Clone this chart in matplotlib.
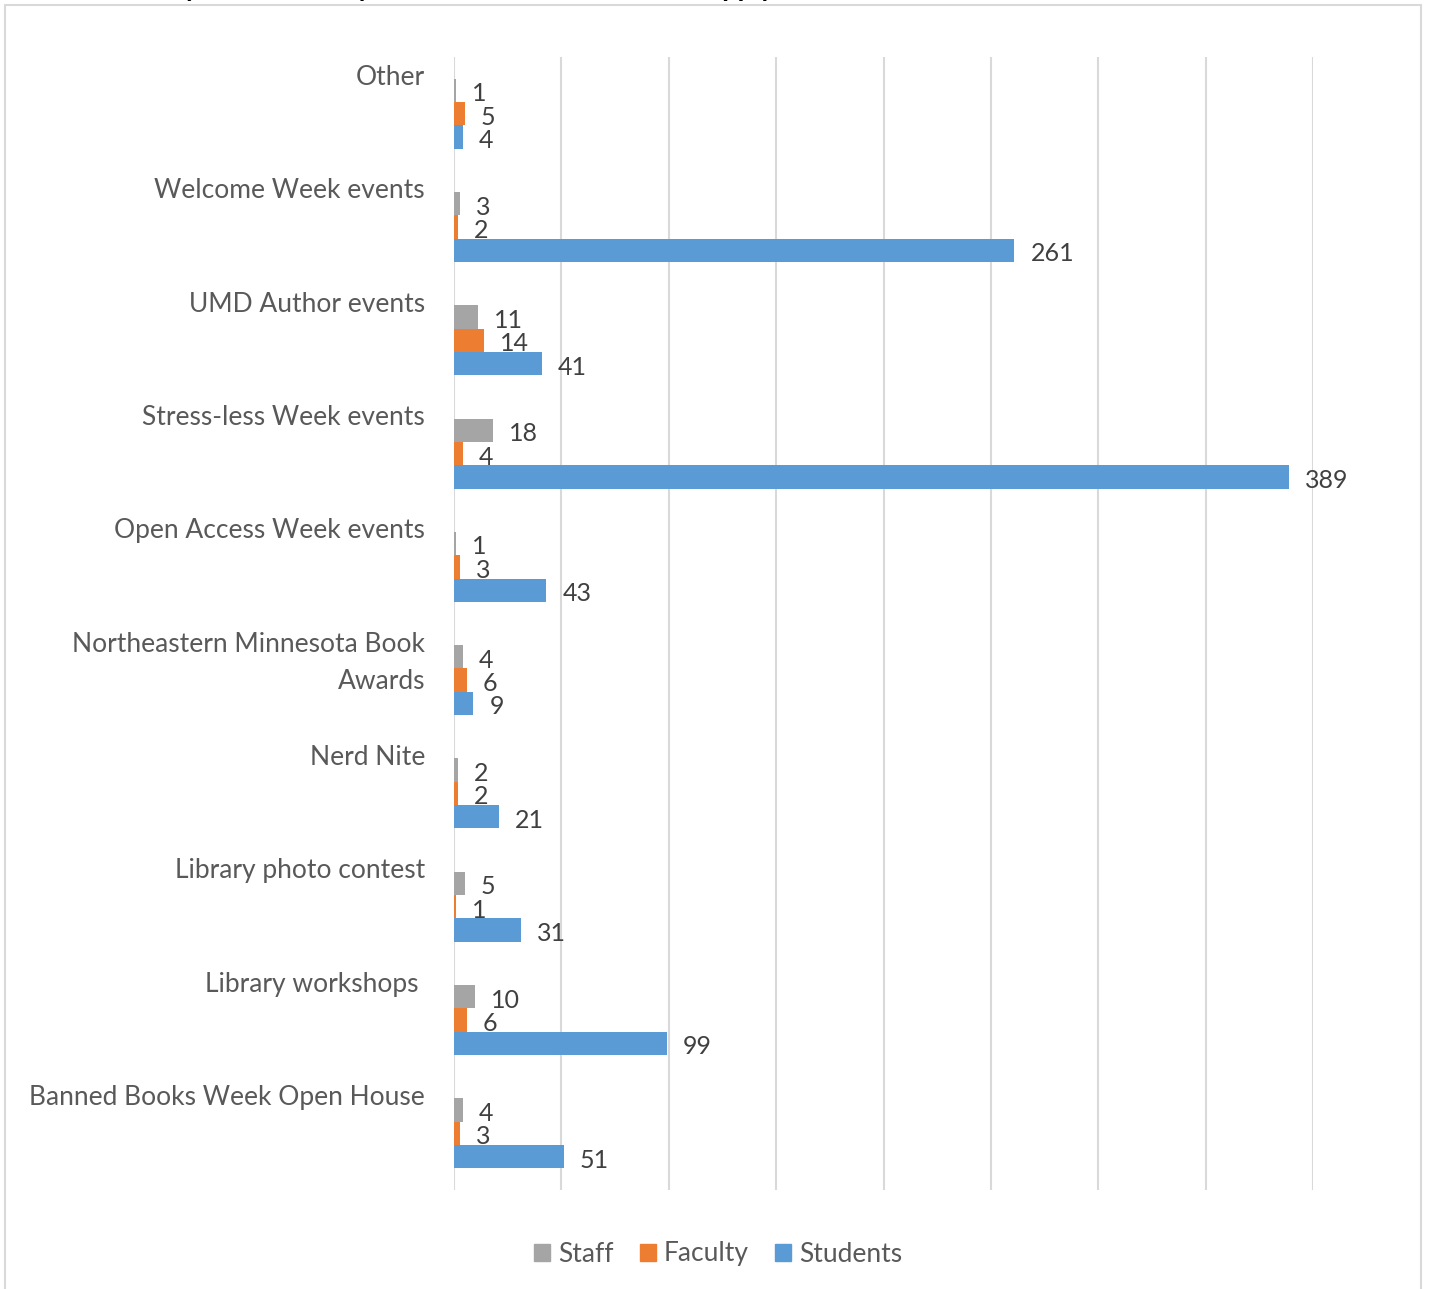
import matplotlib
matplotlib.use("Agg")
import matplotlib.pyplot as plt
import matplotlib.patches as mpatches
import numpy as np

plt.rcParams['font.family'] = ['Lato', 'DejaVu Sans']

categories = ["Other", "Welcome Week events", "UMD Author events",
              "Stress-less Week events", "Open Access Week events",
              "Northeastern Minnesota Book\nAwards", "Nerd Nite",
              "Library photo contest", "Library workshops ",
              "Banned Books Week Open House"]
staff = [1, 3, 11, 18, 1, 4, 2, 5, 10, 4]
faculty = [5, 2, 14, 4, 3, 6, 2, 1, 6, 3]
students = [4, 261, 41, 389, 43, 9, 21, 31, 99, 51]

series = [("Staff", staff, "#A5A5A5"),
          ("Faculty", faculty, "#ED7D31"),
          ("Students", students, "#5B9BD5")]

W, H = 1432, 1289
fig = plt.figure(figsize=(W / 100, H / 100), dpi=100)
ax = fig.add_axes([454 / W, 1 - 1190 / H, (1313 - 454) / W, (1190 - 57) / H])

# outer chart frame
fig.patches.append(mpatches.Rectangle((5 / W, -0.01), (1421 - 5) / W, 1 - 5 / H + 0.01,
                                      transform=fig.transFigure, fill=False,
                                      edgecolor="#D9D9D9", linewidth=1.5))

# clipped title above the frame
fig.text(36 / W, 1 + 3 / H, "Which library events have you attended? Check all that apply",
         fontsize=19.5, fontweight="bold", color="black", va="baseline", ha="left")

y = np.arange(len(categories))
bh = 0.206
offsets = [-bh, 0, bh]
for (name, vals, col), off in zip(series, offsets):
    bars = ax.barh(y + off, vals, height=bh, color=col, label=name, zorder=3)
    for b, v in zip(bars, vals):
        ax.annotate(str(v), (b.get_width(), b.get_y() + b.get_height() / 2),
                    xytext=(11.5, -2.5), textcoords="offset points",
                    ha="left", va="center", fontsize=18, color="#404040")

ax.set_xlim(0, 400)
ax.set_ylim(len(categories) - 0.5, -0.5)
ax.set_xticks(np.arange(0, 401, 50))
ax.set_xticklabels([])
ax.set_yticks([])
ax.tick_params(length=0)
ax.grid(axis="x", color="#D9D9D9", linewidth=1.5, zorder=0)
for s in ax.spines.values():
    s.set_visible(False)

for i, c in enumerate(categories):
    ax.text(-29 / 2.1475, i - 0.5 + 0.072, c, ha="right", va="top",
            fontsize=19, color="#595959", linespacing=1.62)

handles = [mpatches.Patch(color=col, label=name) for name, _, col in series]
fig.legend(handles=handles, loc="center", bbox_to_anchor=(718 / W, 1 - 1254 / H),
           ncol=3, frameon=False, fontsize=19, handlelength=0.6, handleheight=0.6,
           handletextpad=0.3, columnspacing=1.0, labelcolor="#595959")

fig.savefig("out.png", dpi=100, facecolor="white")
